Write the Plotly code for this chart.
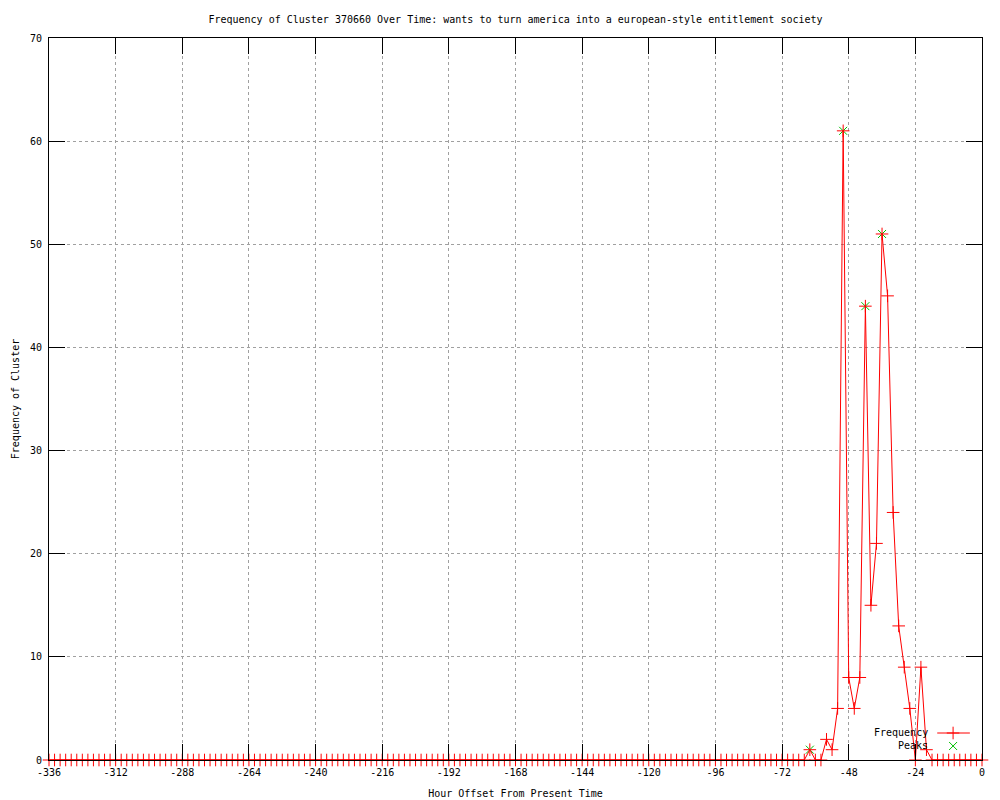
import plotly.graph_objects as go

# ---- data ----
hours = list(range(-336, 1, 2))  # sampling grid, every 2 hours
freq = [
    0, 0, 0, 0, 0, 0, 0, 0, 0, 0, 0, 0, 0, 0, 0, 0, 0, 0, 0, 0,
    0, 0, 0, 0, 0, 0, 0, 0, 0, 0, 0, 0, 0, 0, 0, 0, 0, 0, 0, 0,
    0, 0, 0, 0, 0, 0, 0, 0, 0, 0, 0, 0, 0, 0, 0, 0, 0, 0, 0, 0,
    0, 0, 0, 0, 0, 0, 0, 0, 0, 0, 0, 0, 0, 0, 0, 0, 0, 0, 0, 0,
    0, 0, 0, 0, 0, 0, 0, 0, 0, 0, 0, 0, 0, 0, 0, 0, 0, 0, 0, 0,
    0, 0, 0, 0, 0, 0, 0, 0, 0, 0, 0, 0, 0, 0, 0, 0, 0, 0, 0, 0,
    0, 0, 0, 0, 0, 0, 0, 0, 0, 0, 0, 0, 0, 0, 0, 0, 0,
    1, 0, 0, 2, 1, 5, 61, 8, 5, 8, 44, 15, 21, 51, 45, 24, 13, 9, 5, 0, 9, 1,
    0, 0, 0, 0, 0, 0, 0, 0, 0, 0,
]
peak_hours = [-62, -50, -42, -36]
peak_values = [1, 61, 44, 51]

x_ticks = [-336, -312, -288, -264, -240, -216, -192, -168, -144, -120, -96, -72, -48, -24, 0]
x_tick_labels = ["-336", "-312", "-288", "-264", "-240", "-216", "-192", "-168",
                 "-144", "-120", "-96", "-72", "-48", "-24", "0"]
y_ticks = [0, 10, 20, 30, 40, 50, 60, 70]

title_text = ("Frequency of Cluster 370660 Over Time: wants to turn america "
              "into a european-style entitlement society")

FONT = "DejaVu Sans Mono"
RED = "#ff0000"
GREEN = "#00c000"

red_cross = dict(symbol="cross-thin-open", size=9, color=RED, line=dict(color=RED, width=1))
green_x = dict(symbol="x-thin-open", size=8, color=GREEN, line=dict(color=GREEN, width=1))

fig = go.Figure()

fig.add_trace(go.Scatter(
    x=peak_hours, y=peak_values, mode="markers", name="Peaks",
    marker=green_x, cliponaxis=False, showlegend=False,
))
fig.add_trace(go.Scatter(
    x=hours, y=freq, mode="lines+markers", name="Frequency",
    line=dict(color=RED, width=1), marker=red_cross,
    cliponaxis=False, showlegend=False,
))

# legend glyphs on a helper overlay axis (0..1 = plot area)
fig.add_trace(go.Scatter(
    x=[0.952, 0.987], y=[0.0374, 0.0374], mode="lines",
    line=dict(color=RED, width=1), xaxis="x2", yaxis="y2",
    showlegend=False, hoverinfo="skip", cliponaxis=False,
))
fig.add_trace(go.Scatter(
    x=[0.969], y=[0.0374], mode="markers", marker=red_cross,
    xaxis="x2", yaxis="y2", showlegend=False, hoverinfo="skip", cliponaxis=False,
))
fig.add_trace(go.Scatter(
    x=[0.969], y=[0.0194], mode="markers", marker=green_x,
    xaxis="x2", yaxis="y2", showlegend=False, hoverinfo="skip", cliponaxis=False,
))

axis_common = dict(
    showline=True, linecolor="black", linewidth=1, mirror="ticks",
    ticks="inside", ticklen=16, tickcolor="black", tickwidth=1,
    showgrid=True, gridcolor="#a0a0a0", griddash="dot", gridwidth=1,
    zeroline=False, automargin=False,
    tickfont=dict(family=FONT, size=10, color="black"),
)

fig.update_layout(
    width=1000, height=800,
    margin=dict(l=41, r=26, t=30, b=48),
    paper_bgcolor="white", plot_bgcolor="white",
    font=dict(family=FONT, size=10, color="black"),
    title=dict(text=title_text, x=0.5075, xanchor="center",
               y=1 - 11 / 800, yref="container", yanchor="middle",
               font=dict(family=FONT, size=10, color="black")),
    xaxis=dict(range=[-336, 0], tickvals=x_ticks, ticktext=x_tick_labels,
               ticklabelstandoff=3,
               title=dict(text="Hour Offset From Present Time", standoff=12,
                          font=dict(family=FONT, size=10)),
               **axis_common),
    yaxis=dict(range=[0, 70], tickvals=y_ticks, ticklabelstandoff=4,
               title=dict(text="Frequency of Cluster", standoff=8,
                          font=dict(family=FONT, size=10)),
               **axis_common),
    xaxis2=dict(overlaying="x", range=[0, 1], visible=False, fixedrange=True),
    yaxis2=dict(overlaying="y", range=[0, 1], visible=False, fixedrange=True),
    annotations=[
        dict(text="Frequency", xref="paper", yref="paper", x=0.944, y=0.0374,
             xanchor="right", yanchor="middle", showarrow=False,
             font=dict(family=FONT, size=10, color="black")),
        dict(text="Peaks", xref="paper", yref="paper", x=0.944, y=0.0194,
             xanchor="right", yanchor="middle", showarrow=False,
             font=dict(family=FONT, size=10, color="black")),
    ],
)

fig.write_html("out.html")
